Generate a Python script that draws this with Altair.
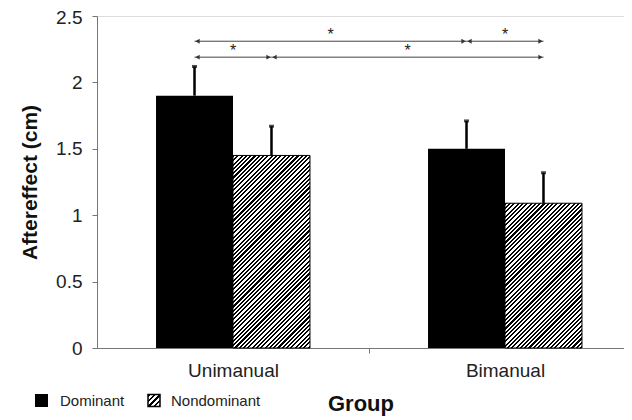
import altair as alt
import numpy as np
import pandas as pd

# ---- data ----
groups = ["Unimanual", "Bimanual"]
hands = ["Dominant", "Nondominant"]
mean_dominant = [1.90, 1.50]
mean_nondominant = [1.45, 1.09]
err_dominant = [0.22, 0.21]
err_nondominant = [0.22, 0.23]

comp_from = [("Unimanual", "Dominant"), ("Bimanual", "Dominant"),
             ("Unimanual", "Dominant"), ("Unimanual", "Nondominant")]
comp_to = [("Bimanual", "Dominant"), ("Bimanual", "Nondominant"),
           ("Unimanual", "Nondominant"), ("Bimanual", "Nondominant")]
comp_level = [2.31, 2.31, 2.19, 2.19]
comp_label = ["*", "*", "*", "*"]

# ---- layout (band units: each group occupies 1 unit) ----
W, H = 527, 332
YMAX = 2.5
XMAX = 1.9375
BAR_W = 0.283
px_x = W / XMAX
px_y = H / YMAX


def bar_span(g, h):
    c = groups.index(g) + 0.5
    return (c - BAR_W, c) if h == "Dominant" else (c, c + BAR_W)


def bar_center(g, h):
    a, b = bar_span(g, h)
    return (a + b) / 2


rows = []
for i, g in enumerate(groups):
    for h, m, e in (("Dominant", mean_dominant[i], err_dominant[i]),
                    ("Nondominant", mean_nondominant[i], err_nondominant[i])):
        a, b = bar_span(g, h)
        rows.append(dict(group=g, hand=h, mean=m, top=m + e,
                         x0=a, x1=b, xc=(a + b) / 2))
bars = pd.DataFrame(rows)

comps = pd.DataFrame(dict(
    xa=[bar_center(*f) for f in comp_from],
    xb=[bar_center(*t) for t in comp_to],
    y=comp_level,
    label=comp_label,
))
comps["xm"] = (comps.xa + comps.xb) / 2


def hatch(w, h, period=4.3, duty=0.5):
    L = w + h
    k = L / (w * w + h * h)
    stops = []
    n = int(np.ceil(L / period))
    for i in range(n):
        s = min(i * period / L, 1)
        m = min((i * period + period * duty) / L, 1)
        e = min((i + 1) * period / L, 1)
        stops += [alt.GradientStop(color="black", offset=s),
                  alt.GradientStop(color="black", offset=m),
                  alt.GradientStop(color="white", offset=m),
                  alt.GradientStop(color="white", offset=e)]
    return alt.LinearGradient(gradient="linear", stops=stops,
                              x1=0, y1=0, x2=k * w, y2=k * h)


x_scale = alt.Scale(domain=[0, XMAX], nice=False, zero=False)
y_scale = alt.Scale(domain=[0, YMAX], nice=False)

x_axis = alt.Axis(
    values=[0.5, 1, 1.5],
    labelExpr="datum.value == 0.5 ? 'Unimanual' : (datum.value == 1.5 ? 'Bimanual' : '')",
    tickOpacity={"condition": {"test": "datum.value == 1", "value": 1}, "value": 0},
    tickSize=5, tickColor="#777", domainColor="#777",
    labelFontSize=19, labelFont="Liberation Sans", labelColor="#222", labelPadding=8,
    title="Group", titleFontSize=22, titleFont="Liberation Sans", titleFontWeight="bold",
    titleColor="#111", titlePadding=13, grid=False,
)
y_axis = alt.Axis(
    values=[0, 0.5, 1, 1.5, 2, 2.5], format="~g",
    labelOffset={"condition": {"test": "datum.value == 2.5", "value": 1.5}, "value": 0},
    tickSize=5, tickColor="#777", domainColor="#777",
    labelFontSize=19, labelFont="Liberation Sans", labelColor="#222", labelPadding=10,
    title="Aftereffect (cm)", titleFontSize=21, titleFont="Liberation Sans",
    titleFontWeight="bold", titleColor="#111", titlePadding=15, grid=False,
)

base = alt.Chart(bars)

dom_bars = base.transform_filter(alt.datum.hand == "Dominant").mark_bar(
    color="black").encode(
    x=alt.X("x0:Q", scale=x_scale, axis=x_axis),
    x2="x1:Q",
    y=alt.Y("mean:Q", scale=y_scale, axis=y_axis),
    y2=alt.datum(0),
)

nd_layers = []
for g in groups:
    r = bars[(bars.group == g) & (bars.hand == "Nondominant")].iloc[0]
    grad = hatch(BAR_W * px_x, r["mean"] * px_y)
    nd_layers.append(
        base.transform_filter((alt.datum.hand == "Nondominant") & (alt.datum.group == g))
        .mark_bar(fill=grad, stroke="black", strokeWidth=1)
        .encode(x="x0:Q", x2="x1:Q", y="mean:Q", y2=alt.datum(0))
    )

err_rule = base.mark_rule(color="black", strokeWidth=2.5).encode(
    x="xc:Q", y="mean:Q", y2="top:Q")
err_cap = base.mark_tick(color="black", orient="horizontal", size=5, thickness=3).encode(
    x="xc:Q", y="top:Q")

cbase = alt.Chart(comps)
comp_line = cbase.mark_rule(color="#444", strokeWidth=1).encode(
    x="xa:Q", x2="xb:Q", y="y:Q")
arrow_l = cbase.mark_point(shape="triangle-left", filled=True, color="#333",
                           size=24, opacity=1, xOffset=3).encode(x="xa:Q", y="y:Q")
arrow_r = cbase.mark_point(shape="triangle-right", filled=True, color="#333",
                           size=24, opacity=1, xOffset=-3).encode(x="xb:Q", y="y:Q")
stars = cbase.mark_text(fontSize=16, font="Liberation Sans", color="#222",
                        dy=-6).encode(x="xm:Q", y="y:Q", text="label:N")

# ---- legend at bottom-left ----
leg = pd.DataFrame(dict(name=hands))
leg_base = alt.Chart(leg)
leg_dom_sq = leg_base.transform_filter(alt.datum.name == "Dominant").mark_rect(
    color="black").encode(x=alt.value(-62), x2=alt.value(-49),
                          y=alt.value(378), y2=alt.value(391))
leg_nd_sq = leg_base.transform_filter(alt.datum.name == "Nondominant").mark_rect(
    fill=hatch(12, 12, period=5.5), stroke="black", strokeWidth=1.5).encode(
    x=alt.value(51), x2=alt.value(63), y=alt.value(378.5), y2=alt.value(390.5))
leg_dom_txt = leg_base.transform_filter(alt.datum.name == "Dominant").mark_text(
    align="left", baseline="middle", fontSize=15, font="Liberation Sans", color="#222"
).encode(x=alt.value(-37), y=alt.value(385), text="name:N")
leg_nd_txt = leg_base.transform_filter(alt.datum.name == "Nondominant").mark_text(
    align="left", baseline="middle", fontSize=15, font="Liberation Sans", color="#222"
).encode(x=alt.value(74), y=alt.value(385), text="name:N")

chart = alt.layer(
    dom_bars, *nd_layers, err_rule, err_cap,
    comp_line, arrow_l, arrow_r, stars,
    leg_dom_sq, leg_nd_sq, leg_dom_txt, leg_nd_txt,
).properties(
    width=W, height=H,
    autosize=alt.AutoSizeParams(type="none"),
    padding={"left": 89, "top": 8, "right": 0, "bottom": 70},
).configure_view(stroke=None).configure(background="white")

chart.save("out.html", embed_options={"renderer": "svg", "actions": False})
